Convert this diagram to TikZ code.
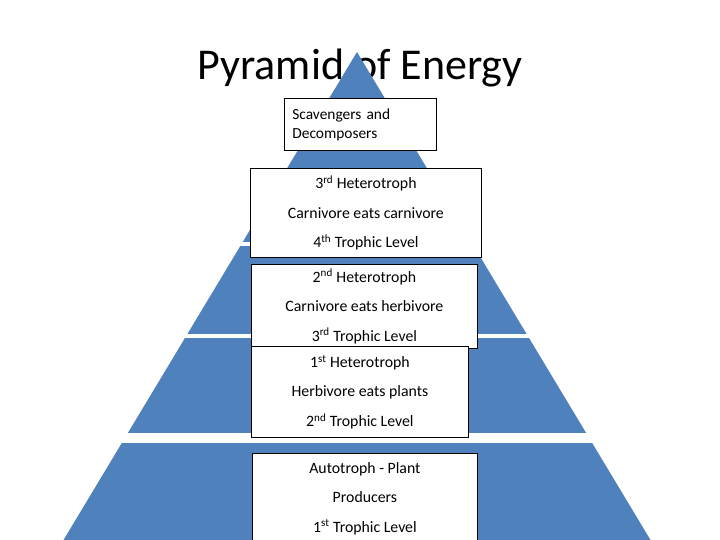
\documentclass[tikz,border=0pt]{standalone}
\usepackage{fontspec}
\setmainfont{Carlito}
\usepackage{xcolor}
\definecolor{pyrblue}{HTML}{4F81BD}

\tikzset{
	lvlbox/.style={draw=black, fill=white, line width=0.8pt, anchor=north west,
		inner sep=0pt, align=center, font=\fontsize{15.8}{29.5}\selectfont}
}

\begin{document}
\begin{tikzpicture}[x=1pt,y=-1pt]
		% Page
		\clip (0,0) rectangle (720,540);
		\fill[white] (0,0) rectangle (720,540);
		
		% Title (the pyramid is drawn over it)
		\node[font=\fontsize{44}{50}\selectfont, anchor=base] (title) at (360,80) {Pyramid of Energy};
		
		% Pyramid, cut into bands
		\coordinate (apex) at (357,52);
		\coordinate (baseL) at (63.5,540);
		\coordinate (baseR) at (650.5,540);
		\begin{scope}
			\clip (apex) -- (baseL) -- (baseR) -- cycle;
			\foreach \top/\bot in {52/242, 246/334, 338/433, 443/540} {
				\fill[pyrblue] (0,\top) rectangle (720,\bot);
			}
		\end{scope}
		
		% Boxes, top to bottom
		\node[lvlbox, align=left, text width=136pt, minimum width=152pt, minimum height=52pt,
		font=\fontsize{15.4}{19}\selectfont, inner xsep=8pt] (scav) at (284,98)
		{Scavengers and\\Decomposers};
		
		\node[lvlbox, minimum width=231pt, minimum height=89pt] (het3) at (250,168)
		{3\textsuperscript{rd} Heterotroph\\Carnivore eats carnivore\\4\textsuperscript{th} Trophic Level};
		
		\node[lvlbox, minimum width=226pt, minimum height=84pt] (het2) at (251,264)
		{2\textsuperscript{nd} Heterotroph\\Carnivore eats herbivore\\3\textsuperscript{rd} Trophic Level};
		
		\node[lvlbox, minimum width=217pt, minimum height=91pt] (het1) at (251,346)
		{1\textsuperscript{st} Heterotroph\\Herbivore eats plants\\2\textsuperscript{nd} Trophic Level};
		
		\node[lvlbox, minimum width=225pt, minimum height=90pt] (auto) at (252,453)
		{Autotroph - Plant\\Producers\\1\textsuperscript{st} Trophic Level};
	\end{tikzpicture}
\end{document}
